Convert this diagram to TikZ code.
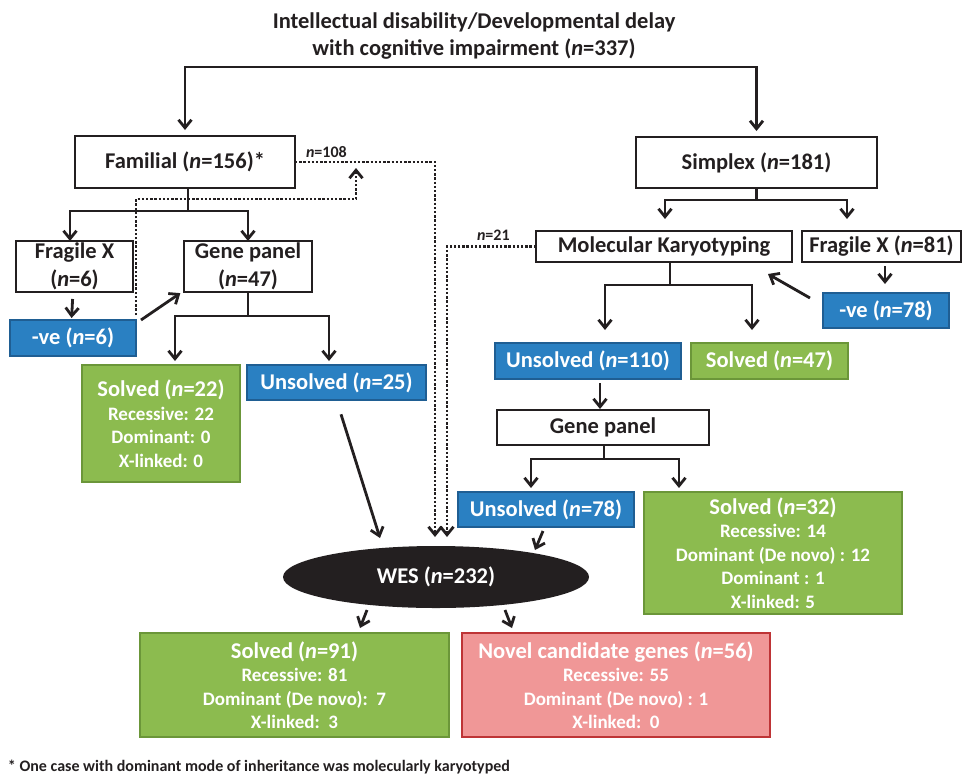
\documentclass[tikz,border=0pt]{standalone}
\usepackage{fontspec}
\setmainfont{Carlito}
\usetikzlibrary{arrows.meta,shapes.geometric}
\definecolor{inkblack}{HTML}{231F20}
\definecolor{fillblue}{HTML}{2A80C2}
\definecolor{edgeblue}{HTML}{1F5E93}
\definecolor{fillgreen}{HTML}{8CBB4F}
\definecolor{edgegreen}{HTML}{6B9639}
\definecolor{fillpink}{HTML}{F09797}
\definecolor{edgepink}{HTML}{BE3436}
\newcommand{\ncount}[1]{(\textit{n}=#1)}
\newcommand{\headfont}{\fontsize{22.5}{23.5}\selectfont}

\begin{document}
\begin{tikzpicture}[x=1pt, y=-1pt,
    every node/.style={inner sep=0pt, outer sep=0pt, align=center, font=\bfseries},
    plainbox/.style={draw=inkblack, line width=2.8pt, fill=white, text=inkblack,
        font=\headfont\bfseries},
    bluebox/.style={draw=edgeblue, line width=2.2pt, fill=fillblue, text=white,
        font=\headfont\bfseries},
    greenbox/.style={draw=edgegreen, line width=2.2pt, fill=fillgreen, text=white,
        font=\fontsize{19}{23.5}\selectfont\bfseries},
    pinkbox/.style={draw=edgepink, line width=2.2pt, fill=fillpink, text=white,
        font=\fontsize{19}{23.5}\selectfont\bfseries},
    link/.style={draw=inkblack, line width=2.8pt},
    arr/.style={link, -{Straight Barb[length=8pt, width=13pt, line width=2.8pt]}},
    dotarr/.style={draw=inkblack, line width=2.8pt, dash pattern=on 2.4pt off 1.8pt,
        -{Straight Barb[length=8pt, width=13pt, line width=2.8pt]}},
    tag/.style={font=\fontsize{16}{18}\selectfont\bfseries, text=inkblack}
]
    \useasboundingbox (0,0) rectangle (963,774);

    % Title
    \node[text=inkblack, font=\fontsize{22.5}{27}\selectfont\bfseries] (title) at (474,36)
        {Intellectual disability/Developmental delay\\with cognitive impairment \ncount{337}};
    \coordinate (top) at (474,67);

    % Familial branch
    \node[plainbox, minimum width=220, minimum height=52] (fam) at (185,162) {Familial \ncount{156}*};
    \node[plainbox, minimum width=117, minimum height=51, font=\fontsize{22.5}{28}\selectfont\bfseries] (fxl) at (74.5,266.5) {Fragile X\\\ncount{6}};
    \node[plainbox, minimum width=128, minimum height=51, font=\fontsize{22.5}{28}\selectfont\bfseries] (gpl) at (248,266.5) {Gene panel\\\ncount{47}};
    \node[bluebox, minimum width=126, minimum height=36] (negl) at (73,338) {-ve \ncount{6}};
    \node[greenbox, minimum width=158, minimum height=117] (solvl) at (161,423.5)
        {{\headfont Solved \ncount{22}}\\Recessive: 22\\Dominant: 0\\X-linked: 0};
    \node[bluebox, minimum width=179, minimum height=35] (unsl) at (336.5,382.5) {Unsolved \ncount{25}};

    % Simplex branch
    \node[plainbox, minimum width=241, minimum height=51] (simp) at (756.5,162.5) {Simplex \ncount{181}};
    \node[plainbox, minimum width=256, minimum height=31] (mk) at (664,246.5) {Molecular Karyotyping};
    \node[plainbox, minimum width=159, minimum height=31] (fxr) at (881.5,246.5) {Fragile X \ncount{81}};
    \node[bluebox, minimum width=126, minimum height=35] (negr) at (886,310.5) {-ve \ncount{78}};
    \node[bluebox, minimum width=186, minimum height=36] (uns110) at (588,361) {Unsolved \ncount{110}};
    \node[greenbox, font=\headfont\bfseries, minimum width=157, minimum height=36] (sol47) at (769.5,361) {Solved \ncount{47}};
    \node[plainbox, minimum width=212, minimum height=35] (gpr) at (603,427.5) {Gene panel};
    \node[bluebox, minimum width=176, minimum height=35] (uns78) at (546,509.5) {Unsolved \ncount{78}};
    \node[greenbox, minimum width=258, minimum height=122] (sol32) at (773,553)
        {{\headfont Solved \ncount{32}}\\Recessive: 14\\Dominant (De novo) : 12\\Dominant : 1\\X-linked: 5};

    % WES and outcome
    \node[ellipse, fill=inkblack, text=white, minimum width=306, minimum height=62,
        font=\headfont\bfseries] (wes) at (436,577) {WES \ncount{232}};
    \node[greenbox, minimum width=309, minimum height=104] (sol91) at (294.5,685)
        {{\headfont Solved \ncount{91}}\\Recessive: 81\\Dominant (De novo):~~7\\X-linked:~~3};
    \node[pinkbox, minimum width=308, minimum height=104] (novel) at (616,685)
        {{\headfont Novel candidate genes \ncount{56}}\\Recessive: 55\\Dominant (De novo) : 1\\X-linked:~~0};

    % Footnote
    \node[tag, anchor=base west] (foot) at (8,771)
        {* One case with dominant mode of inheritance was molecularly karyotyped};

    % Top split
    \draw[arr, shorten >=6pt] (top) -| (fam.north);
    \draw[arr, shorten >=6pt] (top) -| (simp.north);

    % Familial connectors
    \draw[link] ([xshift=3pt]fam.south) -- ++(0,23) coordinate (famsplit);
    \draw[arr] (famsplit) -| ([xshift=-4.5pt]fxl.north);
    \draw[arr] (famsplit) -| (gpl.north);
    \draw[arr, shorten <=7pt, shorten >=2pt] ([xshift=-1.5pt]fxl.south) -- ([xshift=-1.5pt]negl.north);
    \draw[arr, shorten >=2pt] ([xshift=5pt]negl.north east) -- ([xshift=-2pt]gpl.south west);
    \draw[link] (gpl.south) -- ++(0,24) coordinate (gplsplit);
    \draw[arr, shorten >=4pt] (gplsplit) -| ([xshift=14pt]solvl.north);
    \draw[arr, shorten >=4pt] (gplsplit) -| ([xshift=-7.5pt]unsl.north);
    \draw[arr, shorten <=15pt] (unsl.south) -- ([xshift=-56pt, yshift=8pt]wes.north);

    % Dotted routes to WES
    \coordinate (merge) at (356,168);
    \draw[dotarr] ([yshift=5pt]negl.north east) |- (merge |- 0,199) -- (merge);
    \draw[dotarr, shorten >=9pt] (fam.east) -| ([xshift=-1pt]wes.north);
    \node[tag, anchor=base west] (tag108) at (306,157) {\textit{n}=108};
    \draw[dotarr, shorten >=9pt] (mk.west) -| ([xshift=11pt]wes.north);
    \node[tag, anchor=base west] (tag21) at (477,240) {\textit{n}=21};

    % Simplex connectors
    \draw[link] (simp.south) -- ++(0,12) coordinate (simpsplit);
    \draw[arr, shorten >=12pt] (simpsplit) -| ([xshift=1pt]mk.north);
    \draw[arr, shorten >=12pt] (simpsplit) -| ([xshift=-34.5pt]fxr.north);
    \draw[arr, shorten <=4pt, shorten >=9pt] ([xshift=3.5pt]fxr.south) -- ([xshift=-1pt]negr.north);
    \draw[arr] ([xshift=-13pt, yshift=-5pt]negr.north west) -- ([xshift=-24pt, yshift=-12pt]mk.south east);
    \draw[link] ([xshift=6pt]mk.south) -- ++(0,23) coordinate (mksplit);
    \draw[arr, shorten >=13pt] (mksplit) -| ([xshift=17pt]uns110.north);
    \draw[arr, shorten >=13pt] (mksplit) -| ([xshift=-17.5pt]sol47.north);
    \draw[arr, shorten <=4pt, shorten >=1pt] ([xshift=12pt]uns110.south) -- ([xshift=-3pt]gpr.north);
    \draw[link] ([xshift=1pt]gpr.south) -- ++(0,14) coordinate (gprsplit);
    \draw[arr, shorten >=4pt] (gprsplit) -| ([xshift=-15pt]uns78.north);
    \draw[arr, shorten >=4pt] (gprsplit) -| ([xshift=-94pt]sol32.north);

    % Into and out of WES
    \draw[arr] ([xshift=-3pt, yshift=-4pt]uns78.south) -- ([xshift=99pt, yshift=-4pt]wes.north);
    \draw[arr] ([xshift=-69pt, yshift=-2pt]wes.south) -- ([xshift=65.5pt, yshift=5pt]sol91.north);
    \draw[arr] ([xshift=69pt, yshift=-2pt]wes.south) -- ([xshift=-104pt, yshift=5pt]novel.north);
\end{tikzpicture}
\end{document}
